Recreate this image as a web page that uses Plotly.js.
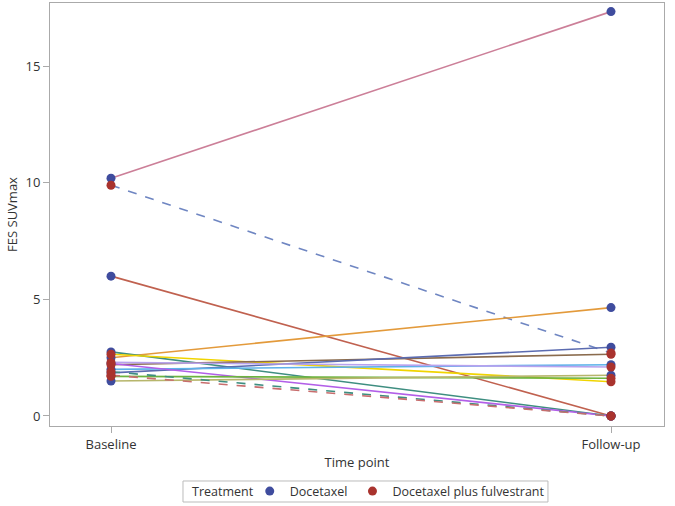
<!DOCTYPE html>
<html>
<head>
<meta charset="utf-8">
<script src="https://cdn.plot.ly/plotly-3.0.1.min.js"></script>
<style>html,body{margin:0;padding:0;background:#fff;}#chart{width:675px;height:506px;}</style>
</head>
<body>
<div id="chart"></div>
<script>
// ---- data ----
var timePoints = ["Baseline", "Follow-up"];
var baseline   = [10.2, 9.9, 6.0, 2.5, 2.75, 2.65, 2.2, 1.85, 2.0, 2.3, 2.25, 1.7, 1.5, 1.9, 1.75];
var followUp   = [17.35, 2.7, 0.0, 4.65, 0.0, 1.47, 2.65, 2.95, 2.2, 2.1, 0.0, 1.62, 1.75, 0.0, 0.0];
var treatment  = ["Docetaxel", "Docetaxel plus fulvestrant", "Docetaxel", "Docetaxel", "Docetaxel",
                  "Docetaxel plus fulvestrant", "Docetaxel plus fulvestrant", "Docetaxel", "Docetaxel",
                  "Docetaxel plus fulvestrant", "Docetaxel", "Docetaxel plus fulvestrant", "Docetaxel",
                  "Docetaxel plus fulvestrant", "Docetaxel plus fulvestrant"];
var groups = ["Docetaxel", "Docetaxel plus fulvestrant"];
var legendTitle = "Treatment";

// ---- styles ----
var lineColors = ["#CC7F98", "#6F86C2", "#C0614F", "#E39A3B", "#3E8E80", "#F0D400", "#8A6B4D",
                  "#5B6BB0", "#5EB2EA", "#B7A2EE", "#B25FE8", "#6DB33F", "#B7B66C", "#3E8E80", "#C86E6E"];
var lineDash   = ["solid", "dash", "solid", "solid", "solid", "solid", "solid",
                  "solid", "solid", "solid", "solid", "solid", "solid", "dash", "dash"];
var groupColors = ["#3F4C9E", "#A9332E"];

var traces = [];
for (var i = 0; i < baseline.length; i++) {
  traces.push({
    x: timePoints, y: [baseline[i], followUp[i]],
    type: "scatter", mode: "lines", showlegend: false, hoverinfo: "skip",
    line: {color: lineColors[i], width: 1.6, dash: lineDash[i]}
  });
}
groups.forEach(function (g, gi) {
  var xs = [], ys = [];
  for (var i = 0; i < baseline.length; i++) {
    if (treatment[i] === g) {
      xs.push(timePoints[0]); ys.push(baseline[i]);
      xs.push(timePoints[1]); ys.push(followUp[i]);
    }
  }
  traces.push({
    x: xs, y: ys, type: "scatter", mode: "markers", name: g,
    marker: {color: groupColors[gi], size: 9}
  });
});

var fam = "Open Sans, DejaVu Sans, sans-serif";
var axisFont = {family: fam, size: 13, color: "#333"};
var legFont = {family: fam, size: 12.5, color: "#333"};
var layout = {
  width: 675, height: 506,
  margin: {l: 50, r: 11, t: 3, b: 80},
  paper_bgcolor: "#fff", plot_bgcolor: "#fff",
  font: axisFont,
  xaxis: {
    type: "category", categoryorder: "array", categoryarray: timePoints,
    range: [-0.122, 1.106],
    showgrid: false, zeroline: false,
    showline: true, mirror: true, linecolor: "#AAAAAA", linewidth: 1,
    ticks: "outside", ticklen: 6, tickcolor: "#AAAAAA",
    tickfont: axisFont,
    automargin: false,
    title: {text: "Time point", font: {family: fam, size: 13, color: "#333"}, standoff: 6}
  },
  yaxis: {
    range: [-0.43, 17.72],
    tickvals: [0, 5, 10, 15],
    showgrid: false, zeroline: false,
    showline: true, mirror: true, linecolor: "#AAAAAA", linewidth: 1,
    ticks: "outside", ticklen: 6, tickcolor: "#AAAAAA",
    tickfont: axisFont,
    automargin: false,
    title: {text: "FES SUVmax", font: {family: fam, size: 13, color: "#333"}, standoff: 4}
  },
  legend: {
    orientation: "h", xref: "container", yref: "container",
    x: 0.370, xanchor: "left", y: 0.0287, yanchor: "middle",
    bgcolor: "rgba(0,0,0,0)", borderwidth: 0,
    font: legFont,
    itemwidth: 30, tracegroupgap: 0
  },
  shapes: [{
    type: "rect", xref: "paper", yref: "paper",
    x0: 0.2166, x1: 0.811, y0: -0.1797, y1: -0.130,
    line: {color: "#BBBBBB", width: 1}, fillcolor: "rgba(0,0,0,0)"
  }],
  annotations: [{
    text: legendTitle, xref: "paper", yref: "paper",
    x: 0.228, xanchor: "left", y: -0.1548, yanchor: "middle",
    showarrow: false, font: legFont
  }],
  showlegend: true
};

Plotly.newPlot("chart", traces, layout, {displayModeBar: false, staticPlot: true});
</script>
</body>
</html>
